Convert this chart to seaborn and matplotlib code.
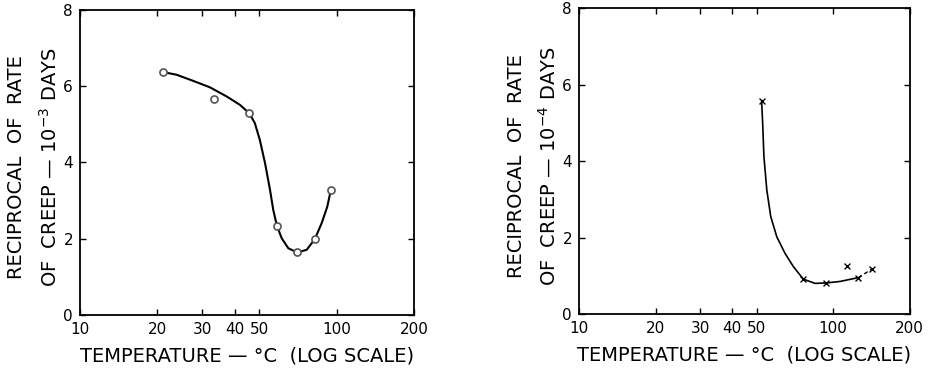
import numpy as np
import pandas as pd
import seaborn as sns
import matplotlib.pyplot as plt
from matplotlib.ticker import FixedLocator, FixedFormatter, NullLocator

# left panel: measured points (circles) and the hand-drawn curve through them
left_temp = [21.1, 33.3, 45.7, 58.5, 70.2, 82.2, 94.9]
left_recip = [6.37, 5.67, 5.29, 2.34, 1.64, 1.99, 3.28]
left_curve_temp = [21.1, 23.8, 27.6, 32.1, 37.3, 42.0, 45.7, 48.0, 50.2, 52.6, 55.0,
                   56.6, 58.5, 61.1, 64.8, 70.2, 76.4, 82.2, 87.4, 91.9, 94.9]
left_curve_recip = [6.37, 6.30, 6.14, 5.97, 5.73, 5.51, 5.29, 5.03, 4.59, 3.98, 3.28,
                    2.76, 2.34, 2.01, 1.75, 1.64, 1.71, 1.99, 2.41, 2.84, 3.28]

# right panel: measured points (crosses) and curve
right_temp = [52.3, 76.3, 93.7, 113.0, 125.6, 141.7]
right_recip = [5.57, 0.91, 0.81, 1.26, 0.95, 1.17]
right_curve_temp = [52.3, 52.8, 53.4, 54.8, 56.8, 60.0, 64.6, 69.7, 76.3, 84.8,
                    93.7, 106.4, 125.6]
right_curve_recip = [5.57, 4.99, 4.12, 3.25, 2.55, 2.02, 1.59, 1.24, 0.91, 0.80,
                     0.81, 0.85, 0.95]
right_dash_temp = [125.6, 141.7]
right_dash_recip = [0.95, 1.17]

x_ticks = [10, 20, 30, 40, 50, 100, 200]
y_ticks = [0, 2, 4, 6, 8]
x_label = "TEMPERATURE — °C  (LOG SCALE)"
y_label_top = "RECIPROCAL  OF  RATE"
y_label_left = "OF  CREEP — 10$^{-3}$ DAYS"
y_label_right = "OF  CREEP — 10$^{-4}$ DAYS"

sns.set_theme(style="ticks")
plt.rcParams['font.family'] = ['DejaVu Sans']
plt.rcParams['mathtext.fontset'] = 'dejavusans'
plt.rcParams['text.color'] = 'black'
plt.rcParams['axes.labelcolor'] = 'black'

fig = plt.figure(figsize=(9.33, 3.68), dpi=100)
ax1 = fig.add_axes([0.0857, 0.144, 0.358, 0.829])
ax2 = fig.add_axes([0.6206, 0.147, 0.3544, 0.830])


def style_axis(ax):
    ax.set_xscale('log')
    ax.set_xlim(10, 200)
    ax.set_ylim(0, 8)
    ax.xaxis.set_major_locator(FixedLocator(x_ticks))
    ax.xaxis.set_major_formatter(FixedFormatter([str(t) for t in x_ticks]))
    ax.xaxis.set_minor_locator(NullLocator())
    ax.set_yticks(y_ticks)
    ax.tick_params(direction='in', top=True, right=True, length=4, width=1,
                   labelsize=11, colors='black', pad=5)
    for s in ax.spines.values():
        s.set_linewidth(1.3)
        s.set_color('black')
    ax.set_xlabel(x_label, fontsize=14, labelpad=7, color='black')
    ax.set_ylabel('')


# left
df_lc = pd.DataFrame({'t': left_curve_temp, 'r': left_curve_recip})
sns.lineplot(data=df_lc, x='t', y='r', sort=False, color='black', linewidth=1.5, ax=ax1)
df_lp = pd.DataFrame({'t': left_temp, 'r': left_recip})
sns.scatterplot(data=df_lp, x='t', y='r', marker='o', s=26, facecolor='white',
                edgecolor='#555555', linewidth=1.2, zorder=5, ax=ax1)
style_axis(ax1)

# right
df_rc = pd.DataFrame({'t': right_curve_temp, 'r': right_curve_recip})
sns.lineplot(data=df_rc, x='t', y='r', sort=False, color='black', linewidth=1.2, ax=ax2)
df_rd = pd.DataFrame({'t': right_dash_temp, 'r': right_dash_recip})
sns.lineplot(data=df_rd, x='t', y='r', sort=False, color='black', linewidth=1.0,
             linestyle=(0, (3, 2)), ax=ax2)
df_rp = pd.DataFrame({'t': right_temp, 'r': right_recip})
sns.scatterplot(data=df_rp, x='t', y='r', marker='x', s=18, color='black',
                linewidth=1.0, zorder=5, ax=ax2)
style_axis(ax2)

# two-line y labels
fig.text(17 / 933, 0.545, y_label_top, rotation=90, ha='center', va='center', fontsize=14)
fig.text(50 / 933, 0.545, y_label_left, rotation=90, ha='center', va='center', fontsize=14)
fig.text(516 / 933, 0.55, y_label_top, rotation=90, ha='center', va='center', fontsize=14)
fig.text(549 / 933, 0.55, y_label_right, rotation=90, ha='center', va='center', fontsize=14)

fig.savefig('out.png', dpi=100)
